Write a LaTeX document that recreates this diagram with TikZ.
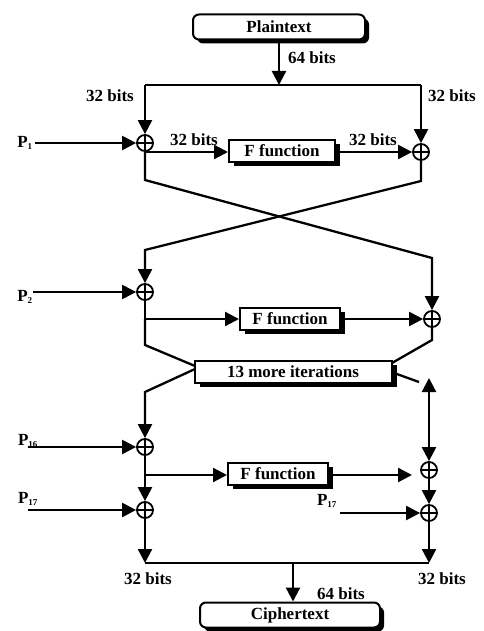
\documentclass[tikz,border=0pt]{standalone}
\usepackage{fontspec}
\setmainfont{Liberation Serif}
\usetikzlibrary{arrows.meta,shadows}
\begin{document}
\begin{tikzpicture}[x=1pt,y=-1pt,
  every node/.style={font=\fontsize{17}{17}\selectfont\bfseries},
  line/.style={line width=2.3pt},
  arr/.style={line width=2.3pt,-{Triangle[length=14pt,width=14pt]}},
  darr/.style={line width=2.3pt,{Triangle[length=14pt,width=14pt]}-{Triangle[length=14pt,width=14pt]}},
  xorn/.style={circle,draw,line width=1.8pt,minimum size=16pt,inner sep=0pt,
    path picture={\draw[line width=1.8pt] (path picture bounding box.north) -- (path picture bounding box.south)
      (path picture bounding box.west) -- (path picture bounding box.east);}},
  rbox/.style={draw,line width=2pt,rounded corners=6pt,fill=white,inner sep=0pt,
    drop shadow={shadow xshift=4pt,shadow yshift=-4pt,fill=black,opacity=1}},
  fbox/.style={draw,line width=2pt,fill=white,inner sep=0pt,minimum height=22pt,
    drop shadow={shadow xshift=5pt,shadow yshift=-4pt,fill=black,opacity=1}},
  lbl/.style={inner sep=0pt},
  plbl/.style={inner sep=0pt}
]
\useasboundingbox (0,0) rectangle (483,631);

% boxes
\node[rbox,minimum width=172pt,minimum height=25pt] (plain) at (279,27) {Plaintext};
\node[rbox,minimum width=180pt,minimum height=25pt] (cipher) at (290,615) {Ciphertext};
\node[fbox,minimum width=106pt] (F1) at (282,151) {F function};
\node[fbox,minimum width=100pt] (F2) at (290,319) {F function};
\node[fbox,minimum width=100pt] (F3) at (278,474) {F function};
\node[fbox,minimum width=197pt] (iter) at (293,372) {13 more iterations};

% xor nodes
\node[xorn] (x1) at (145,143) {};
\node[xorn] (x2) at (421,152) {};
\node[xorn] (x3) at (145,292) {};
\node[xorn] (x4) at (432,319) {};
\node[xorn] (x5) at (145,447) {};
\node[xorn] (x6) at (429,470) {};
\node[xorn] (x7) at (145,510) {};
\node[xorn] (x8) at (429,513) {};

% coordinates
\coordinate (topmid) at (279,85);
\coordinate (tl) at (145,85);
\coordinate (tr) at (421,85);
\coordinate (p1s) at (35,143);
\coordinate (p2s) at (33,292);
\coordinate (p16s) at (28,447);
\coordinate (p17s) at (28,510);
\coordinate (p17rs) at (340,513);
\coordinate (b1) at (145,152);
\coordinate (c1) at (145,180);
\coordinate (c2) at (432,258);
\coordinate (c3) at (421,181);
\coordinate (c4) at (145,250);
\coordinate (b2) at (145,319);
\coordinate (c5) at (145,345);
\coordinate (ilt) at (195,366);
\coordinate (ilb) at (195,369);
\coordinate (c6) at (432,340);
\coordinate (irt) at (392,363);
\coordinate (irb) at (394,373);
\coordinate (c7) at (419,382);
\coordinate (c8) at (429,378);
\coordinate (c9) at (145,392);
\coordinate (b3) at (145,475);
\coordinate (f3e) at (412,475);
\coordinate (bl) at (145,563);
\coordinate (br) at (429,563);
\coordinate (bm) at (293,563);

% top
\draw[arr] (plain) -- (topmid);
\draw[line] (tl) -- (tr);
\draw[arr] (tl) -- (x1);
\draw[arr] (tr) -- (x2);
\draw[arr] (p1s) -- (x1);
\draw[arr] (b1) -- (F1.west |- b1);
\draw[arr] (F1.east |- x2) -- (x2);
\draw[line] (x1) -- (b1);

% crossing
\draw[arr] (b1) -- (c1) -- (c2) -- (x4);
\draw[arr] (x2) -- (c3) -- (c4) -- (x3);

% round 2
\draw[arr] (p2s) -- (x3);
\draw[line] (x3) -- (b2);
\draw[arr] (b2) -- (F2.west);
\draw[arr] (F2.east) -- (x4);
\draw[line] (b2) -- (c5) -- (ilt);
\draw[line] (x4) -- (c6) -- (irt);

% after iterations
\draw[arr] (ilb) -- (c9) -- (x5);
\draw[line] (irb) -- (c7);
\draw[darr] (c8) -- (x6);

% round 16
\draw[arr] (p16s) -- (x5);
\draw[line] (x5) -- (b3);
\draw[arr] (b3) -- (F3.west |- b3);
\draw[arr] (F3.east |- b3) -- (f3e);
\draw[arr] (b3) -- (x7);
\draw[arr] (x6) -- (x8);
\draw[arr] (p17s) -- (x7);
\draw[arr] (p17rs) -- (x8);

% bottom
\draw[arr] (x7) -- (bl);
\draw[arr] (x8) -- (br);
\draw[line] (bl) -- (br);
\draw[arr] (bm) -- (bm |- cipher.north);

% labels
\node[lbl] (l64a) at (312,58) {64 bits};
\node[lbl] (l32a) at (110,96) {32 bits};
\node[lbl] (l32b) at (452,96) {32 bits};
\node[lbl] (l32c) at (194,140) {32 bits};
\node[lbl] (l32d) at (373,140) {32 bits};
\node[lbl] (l32e) at (148,579) {32 bits};
\node[lbl] (l32f) at (442,579) {32 bits};
\node[lbl] (l64b) at (341,594) {64 bits};

\node[plbl] (p1) at (25,143) {P\textsubscript{\fontsize{9}{9}\selectfont 1}};
\node[plbl] (p2) at (25,297) {P\textsubscript{\fontsize{9}{9}\selectfont 2}};
\node[plbl] (p16) at (28,441) {P\textsubscript{\fontsize{9}{9}\selectfont 16}};
\node[plbl] (p17) at (28,499) {P\textsubscript{\fontsize{9}{9}\selectfont 17}};
\node[plbl] (p17r) at (327,501) {P\textsubscript{\fontsize{9}{9}\selectfont 17}};
\end{tikzpicture}
\end{document}
